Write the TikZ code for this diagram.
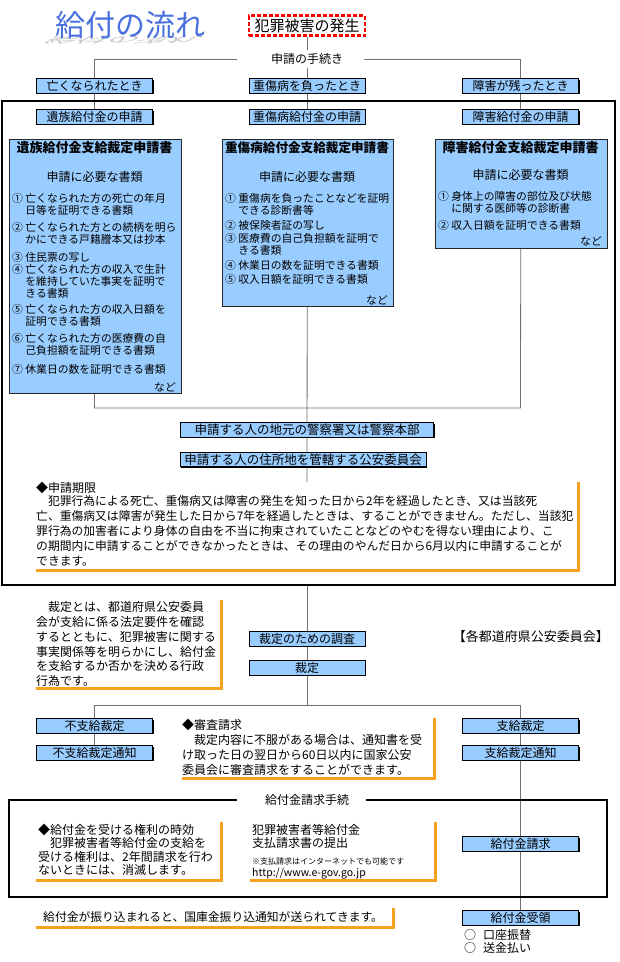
\documentclass[tikz,border=0pt]{standalone}
\usepackage{fontspec}
\setmainfont{Noto Sans CJK JP}
\usetikzlibrary{shadows,backgrounds}
\XeTeXlinebreaklocale "ja"
\XeTeXlinebreakskip=0pt plus 1pt
\definecolor{boxblue}{RGB}{153,204,255}
\definecolor{callorange}{RGB}{246,162,32}
\definecolor{ttlblue}{RGB}{72,112,222}
\definecolor{linegray}{RGB}{112,112,112}
\newcommand\myfs[2]{\fontsize{#1}{#2}\selectfont}
\newcommand\jl[2]{\makebox[#1pt][s]{#2}}
\newcommand\ci{\phantom{①~}}
\tikzset{
  shd/.style={general shadow={fill=black, shadow xshift=1.1pt, shadow yshift=-1.1pt}},
  lbox/.style={shd, rectangle, fill=boxblue, draw=black, line width=0.6pt, inner sep=0pt,
     minimum width=116pt, minimum height=14.5pt, font=\myfs{12}{13}},
  bigbox/.style={shd, rectangle, fill=boxblue, draw=black!85, line width=0.6pt, inner sep=0pt, anchor=north west},
  evbox/.style={rectangle, fill=white, draw=red, line width=2.4pt, dash pattern=on 4pt off 2pt,
     minimum width=116pt, minimum height=20pt, inner sep=0pt, font=\myfs{15}{15}},
  conn/.style={draw=linegray, line width=0.8pt},
  orng/.style={draw=callorange, line width=3pt},
  bigframe/.style={draw=black, line width=2pt},
  tx/.style={inner sep=0pt, anchor=west, font=\myfs{12}{14}},
  ptx/.style={inner sep=0pt, anchor=north west, align=left},
  btitle/.style={inner sep=0pt, font=\myfs{13}{13}\bfseries},
  bsub/.style={inner sep=0pt, font=\myfs{12}{12}},
  nado/.style={inner sep=0pt, anchor=east, font=\myfs{10.8}{12}},
}
\begin{document}
\begin{tikzpicture}[x=1pt,y=-1pt]
\useasboundingbox (0,0) rectangle (620,962);

% ---- title
\begin{scope}[shift={(55,36)}]
\node[inner sep=0pt, anchor=base west, font=\myfs{30}{30}, text=gray!45,
      cm={1,0,-0.6,-0.3,(0,0)}, transform shape] (ttlshadow) at (0,0) {給付の流れ};
\end{scope}
\node[inner sep=0pt, anchor=base west, font=\myfs{30}{30}, text=ttlblue] (ttl) at (55,36) {給付の流れ};

\node[evbox] (event) at (307,25.5) {犯罪被害の発生};
\node[tx, anchor=center, inner sep=3pt] (proc) at (307,59) {申請の手続き};
\coordinate (busL) at (94.5,59);
\coordinate (busR) at (520.5,59);
\coordinate (gapL) at (237,59);
\coordinate (gapR) at (364,59);

\node[lbox] (r1a) at (94.5,86) {亡くなられたとき};
\node[lbox] (r1b) at (307,86) {重傷病を負ったとき};
\node[lbox] (r1c) at (520.5,86) {障害が残ったとき};
\node[lbox] (r2a) at (94.5,117) {遺族給付金の申請};
\node[lbox] (r2b) at (307,117) {重傷病給付金の申請};
\node[lbox] (r2c) at (520.5,117) {障害給付金の申請};

\draw[bigframe] (2,101) rectangle (615,585);

% ---- big blue boxes
\node[bigbox, minimum width=172, minimum height=254] (bx1) at (8.5,139) {};
\node[bigbox, minimum width=171, minimum height=167] (bx2) at (221.5,139) {};
\node[bigbox, minimum width=172, minimum height=109] (bx3) at (434.5,139) {};

\node[btitle] (bx1t) at (94.5,148) {遺族給付金支給裁定申請書};
\node[btitle, font=\myfs{12.6}{13}\bfseries] (bx2t) at (307,148) {重傷病給付金支給裁定申請書};
\node[btitle] (bx3t) at (520.5,148) {障害給付金支給裁定申請書};
\node[bsub] (bx1s) at (94.5,177) {申請に必要な書類};
\node[bsub] (bx2s) at (307,177) {申請に必要な書類};
\node[bsub] (bx3s) at (520.5,175) {申請に必要な書類};

\node[ptx, font=\myfs{10.8}{12}] (bx1i) at (12,193) {①~亡くなられた方の死亡の年月\\
\ci 日等を証明できる書類\\[5pt]
②~亡くなられた方との続柄を明ら\\
\ci かにできる戸籍謄本又は抄本\\[6pt]
③~住民票の写し\\[0.5pt]
④~亡くなられた方の収入で生計\\
\ci を維持していた事実を証明で\\
\ci きる書類\\[4pt]
⑤~亡くなられた方の収入日額を\\
\ci 証明できる書類\\[5pt]
⑥~亡くなられた方の医療費の自\\
\ci 己負担額を証明できる書類\\[7pt]
⑦~休業日の数を証明できる書類};
\node[nado] (bx1n) at (176,387) {など};

\node[ptx, font=\myfs{10.8}{12}] (bx2i) at (225,193) {①~重傷病を負ったことなどを証明\\
\ci できる診断書等\\[3pt]
②~被保険者証の写し\\[1.5pt]
③~医療費の自己負担額を証明で\\
\ci きる書類\\[3pt]
④~休業日の数を証明できる書類\\[2pt]
⑤~収入日額を証明できる書類};
\node[nado] (bx2n) at (388,300) {など};

\node[ptx, font=\myfs{10.8}{12}] (bx3i) at (438,191) {①~身体上の障害の部位及び状態\\
\ci に関する医師等の診断書\\[5pt]
②~収入日額を証明できる書類};
\node[nado] (bx3n) at (602,241) {など};

\coordinate (b1) at (94.5,408);
\coordinate (b3) at (520.5,408);

\node[lbox, minimum width=253, font=\myfs{12.5}{13}] (pol1) at (307,430) {申請する人の地元の警察署又は警察本部};
\node[lbox, minimum width=246, font=\myfs{12.5}{13}] (pol2) at (303,459.5) {申請する人の住所地を管轄する公安委員会};
\coordinate (c1top) at (307,482);

% ---- callout: 申請期限
\node[tx] (c1h) at (36,488) {◆申請期限};
\node[ptx, font=\myfs{11.8}{15}] (c1p) at (36,495.5) {\jl{539}{　犯罪行為による死亡、重傷病又は障害の発生を知った日から2年を経過したとき、又は当該死}\\
\jl{539}{亡、重傷病又は障害が発生した日から7年を経過したときは、することができません。ただし、当該犯}\\
\jl{539}{罪行為の加害者により身体の自由を不当に拘束されていたことなどのやむを得ない理由により、こ}\\
\jl{539}{の期間内に申請することができなかったときは、その理由のやんだ日から6月以内に申請することが}\\
できます。};
\draw[orng] (36,570) -- (578,570) -- (578,482);

% ---- lower part
\coordinate (fb) at (307,585);
\node[ptx, font=\myfs{12}{14.8}] (c2p) at (36,601.4) {\jl{182}{　裁定とは、都道府県公安委員}\\
\jl{182}{会が支給に係る法定要件を確認}\\
\jl{182}{するとともに、犯罪被害に関する}\\
\jl{182}{事実関係等を明らかにし、給付金}\\
\jl{182}{を支給するか否かを決める行政}\\
行為です。};
\draw[orng] (36,688) -- (221,688) -- (221,600);

\node[lbox] (survey) at (307,639) {裁定のための調査};
\node[lbox] (decide) at (307,668) {裁定};
\node[tx, anchor=east, font=\myfs{13}{13}] (pref) at (609,637) {【各都道府県公安委員会】};
\coordinate (d1) at (94.5,705);
\coordinate (d3) at (520.5,705);
\coordinate (dc) at (307,705);
\node[lbox] (fsk) at (94.5,726) {不支給裁定};
\node[lbox] (fskt) at (94.5,753) {不支給裁定通知};
\node[lbox] (sk) at (520.5,726) {支給裁定};
\node[lbox] (skt) at (520.5,753) {支給裁定通知};

\node[tx] (c3h) at (182,725) {◆審査請求};
\node[ptx, font=\myfs{12}{15}] (c3p) at (182,734.4) {\jl{248}{　裁定内容に不服がある場合は、通知書を受}\\
\jl{248}{け取った日の翌日から60日以内に国家公安}\\
\jl{243}{委員会に審査請求をすることができます。}};
\draw[orng] (182,778) -- (434,778) -- (434,718);

\draw[bigframe] (237,800) -- (9,800) -- (9,897) -- (607,897) -- (607,800) -- (366,800);
\node[tx, anchor=center] (fr2t) at (307,800) {給付金請求手続};

\node[tx] (c4h) at (38,830) {◆給付金を受ける権利の時効};
\node[ptx, font=\myfs{12}{13.4}] (c4p) at (38,837.4) {\jl{177}{　犯罪被害者等給付金の支給を}\\
\jl{180}{受ける権利は、2年間請求を行わ}\\
ないときには、消滅します。};
\draw[orng] (36,880) -- (221,880) -- (221,822);

\node[tx] (c5a) at (252,830) {犯罪被害者等給付金};
\node[tx] (c5b) at (252,843) {支払請求書の提出};
\node[tx, font=\myfs{8}{8}] (c5c) at (252,861) {※支払請求はインターネットでも可能です};
\node[tx, font=\myfs{10.5}{10.5}] (c5d) at (252,875) {\underline{http://www.e-gov.go.jp}};
\draw[orng] (250,880) -- (435,880) -- (435,822);

\node[lbox] (seik) at (520.5,844) {給付金請求};
\node[lbox] (jury) at (520.5,918) {給付金受領};
\node[tx] (o1) at (464,935) {○\hspace{7pt}口座振替};
\node[tx] (o2) at (464,948) {○\hspace{7pt}送金払い};

\node[tx, font=\myfs{11.8}{12}] (c6) at (43,917) {給付金が振り込まれると、国庫金振り込通知が送られてきます。};
\draw[orng] (36,927) -- (393,927) -- (393,908);

% ---- connectors
\begin{scope}[on background layer]
\fill[white] (0,0) rectangle (620,962);
\draw[conn] (event) -- (proc);
\draw[conn] (proc) -- (r1b);
\draw[conn] (gapL) -- (busL) -- (r1a);
\draw[conn] (gapR) -- (busR) -- (r1c);
\draw[conn] (r1a) -- (r2a);
\draw[conn] (r1b) -- (r2b);
\draw[conn] (r1c) -- (r2c);
\draw[conn] (bx1) -- (b1) -- (b3) -- (bx3);
\draw[conn] (bx2) -- (c1top);
\draw[conn] (fb) -- (survey);
\draw[conn] (survey) -- (decide);
\draw[conn] (decide) -- (dc);
\draw[conn] (d1) -- (d3);
\draw[conn] (d1) -- (fsk);
\draw[conn] (fsk) -- (fskt);
\draw[conn] (d3) -- (sk);
\draw[conn] (sk) -- (skt);
\draw[conn] (skt) -- (seik);
\draw[conn] (seik) -- (jury);
\end{scope}
\end{tikzpicture}
\end{document}
